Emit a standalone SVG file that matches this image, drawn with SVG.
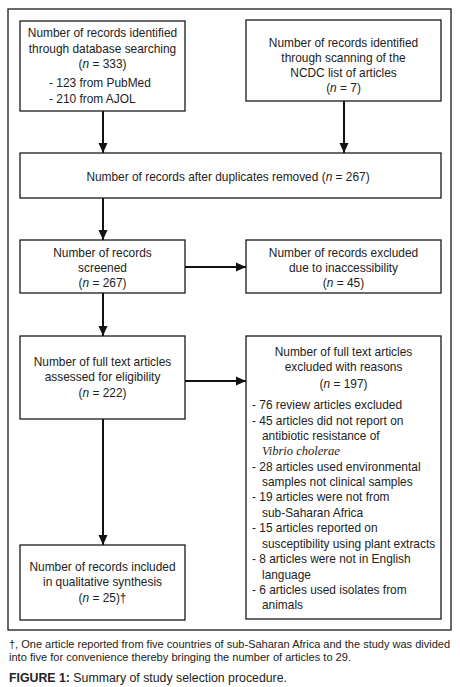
<svg xmlns="http://www.w3.org/2000/svg" width="460" height="687" viewBox="0 0 460 687">
<style>
.box{fill:#fff;stroke:#1a1a1a;stroke-width:1.3}
.t{font-family:"Liberation Sans",Arial,sans-serif;font-size:11.9px;fill:#222}
.c{text-anchor:middle}
.i{font-style:italic}
.v{font-family:"Liberation Serif","Times New Roman",serif;font-style:italic;font-size:12.5px;fill:#222}
.f{font-family:"Liberation Sans",Arial,sans-serif;font-size:11px;fill:#222}
.con{stroke:#111;stroke-width:2;fill:none}
</style>
<defs>
<marker id="ah" markerUnits="userSpaceOnUse" markerWidth="10" markerHeight="10" viewBox="0 0 10 10" refX="10" refY="5" orient="auto">
<path d="M0,0.5 L10,5 L0,9.5 Z" fill="#111"/>
</marker>
</defs>
<rect x="8" y="9" width="443" height="621" fill="#fff" stroke="#1a1a1a" stroke-width="1.3"/>
<g id="connectors">
<line class="con" x1="103" y1="111" x2="103" y2="153" marker-end="url(#ah)"/>
<line class="con" x1="344" y1="101" x2="344" y2="153" marker-end="url(#ah)"/>
<line class="con" x1="103" y1="198" x2="103" y2="240" marker-end="url(#ah)"/>
<line class="con" x1="185" y1="267" x2="246" y2="267" marker-end="url(#ah)"/>
<line class="con" x1="103" y1="293" x2="103" y2="336" marker-end="url(#ah)"/>
<line class="con" x1="185" y1="381" x2="246" y2="381" marker-end="url(#ah)"/>
<line class="con" x1="103" y1="419" x2="103" y2="545" marker-end="url(#ah)"/>
</g>
<g id="n1">
<rect class="box" x="20" y="21" width="165" height="90"/>
<text class="t c" x="102.5" y="37">Number of records identified</text>
<text class="t c" x="102.5" y="53">through database searching</text>
<text class="t c" x="102.5" y="68">(<tspan class="i">n</tspan> = 333)</text>
<text class="t" x="49" y="87">- 123 from PubMed</text>
<text class="t" x="49" y="103">- 210 from AJOL</text>
</g>
<g id="n2">
<rect class="box" x="246" y="20" width="195" height="81"/>
<text class="t c" x="343.5" y="47">Number of records identified</text>
<text class="t c" x="343.5" y="62">through scanning of the</text>
<text class="t c" x="343.5" y="77">NCDC list of articles</text>
<text class="t c" x="343.5" y="92">(<tspan class="i">n</tspan> = 7)</text>
</g>
<g id="n3">
<rect class="box" x="20" y="153" width="421" height="45"/>
<text class="t c" x="228" y="181">Number of records after duplicates removed (<tspan class="i">n</tspan> = 267)</text>
</g>
<g id="n4">
<rect class="box" x="20" y="240" width="165" height="53"/>
<text class="t c" x="102.5" y="257">Number of records</text>
<text class="t c" x="102.5" y="272">screened</text>
<text class="t c" x="102.5" y="287">(<tspan class="i">n</tspan> = 267)</text>
</g>
<g id="n5">
<rect class="box" x="246" y="240" width="195" height="53"/>
<text class="t c" x="343.5" y="257">Number of records excluded</text>
<text class="t c" x="343.5" y="272">due to inaccessibility</text>
<text class="t c" x="343.5" y="287">(<tspan class="i">n</tspan> = 45)</text>
</g>
<g id="n6">
<rect class="box" x="20" y="336" width="165" height="83"/>
<text class="t c" x="102.5" y="366">Number of full text articles</text>
<text class="t c" x="102.5" y="381">assessed for eligibility</text>
<text class="t c" x="102.5" y="397">(<tspan class="i">n</tspan> = 222)</text>
</g>
<g id="n7">
<rect class="box" x="246" y="336" width="195" height="283"/>
<text class="t c" x="343.5" y="356">Number of full text articles</text>
<text class="t c" x="343.5" y="371">excluded with reasons</text>
<text class="t c" x="343.5" y="388">(<tspan class="i">n</tspan> = 197)</text>
<text class="t" x="252" y="409">- 76 review articles excluded</text>
<text class="t" x="252" y="425">- 45 articles did not report on</text>
<text class="t" x="262" y="440">antibiotic resistance of</text>
<text class="v" x="262" y="455">Vibrio cholerae</text>
<text class="t" x="252" y="471">- 28 articles used environmental</text>
<text class="t" x="262" y="486">samples not clinical samples</text>
<text class="t" x="252" y="501">- 19 articles were not from</text>
<text class="t" x="262" y="517">sub-Saharan Africa</text>
<text class="t" x="252" y="532">- 15 articles reported on</text>
<text class="t" x="262" y="548">susceptibility using plant extracts</text>
<text class="t" x="252" y="563">- 8 articles were not in English</text>
<text class="t" x="262" y="579">language</text>
<text class="t" x="252" y="594">- 6 articles used isolates from</text>
<text class="t" x="262" y="609">animals</text>
</g>
<g id="n8">
<rect class="box" x="20" y="545" width="165" height="75"/>
<text class="t c" x="102.5" y="571">Number of records included</text>
<text class="t c" x="102.5" y="586">in qualitative synthesis</text>
<text class="t c" x="102.5" y="602">(<tspan class="i">n</tspan> = 25)†</text>
</g>
<g id="footnote">
<text class="f" x="9" y="648" textLength="441" lengthAdjust="spacingAndGlyphs">†, One article reported from five countries of sub-Saharan Africa and the study was divided</text>
<text class="f" x="9" y="661" textLength="342" lengthAdjust="spacingAndGlyphs">into five for convenience thereby bringing the number of articles to 29.</text>
<text class="f" x="9" y="682" style="font-size:12.5px" textLength="278" lengthAdjust="spacingAndGlyphs"><tspan style="font-weight:bold">FIGURE 1:</tspan> Summary of study selection procedure.</text>
</g>
</svg>
